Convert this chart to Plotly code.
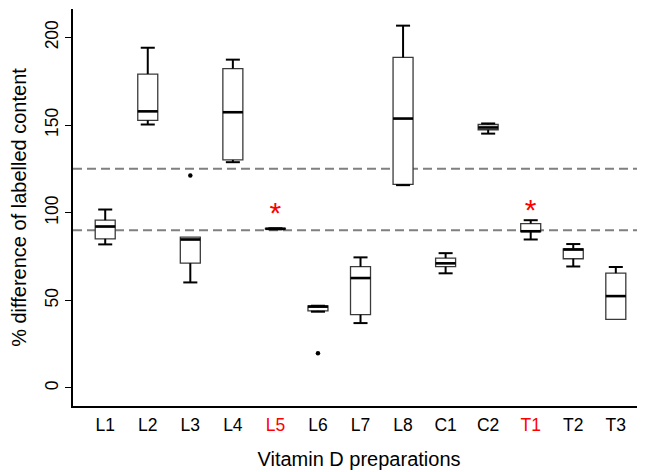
import plotly.graph_objects as go

categories = ["L1", "L2", "L3", "L4", "L5", "L6", "L7", "L8", "C1", "C2", "T1", "T2", "T3"]
lower_whisker = [81.9, 150.3, 60.2, 128.8, 90.5, 43.5, 37.0, 115.7, 65.4, 145.1, 84.7, 69.3, 39.1]
q1_values = [85.1, 152.7, 71.2, 130.1, 90.6, 44.0, 41.8, 116.1, 69.2, 147.3, 89.2, 73.7, 39.1]
median_values = [92.1, 157.8, 84.7, 157.3, 90.8, 46.4, 62.7, 153.7, 71.1, 148.6, 89.4, 79.0, 52.4]
q3_values = [95.7, 179.1, 86.0, 182.2, 91.0, 46.8, 69.2, 188.6, 74.1, 150.3, 93.8, 79.4, 65.5]
upper_whisker = [101.8, 194.1, 86.0, 187.3, 91.1, 46.9, 74.5, 206.7, 76.9, 150.9, 95.7, 82.1, 69.0]

outlier_categories = ["L3", "L6"]
outlier_values = [121.2, 19.8]

flagged_categories = ["L5", "T1"]
flag_values = [98.5, 100.0]

reference_lines = [90, 125]
y_ticks = [0, 50, 100, 150, 200]

FONT = "Liberation Sans, Arial, Helvetica, sans-serif"
BOX_W = 0.47
CAP_W = 0.165

xs = list(range(len(categories)))
pos = {c: i for i, c in enumerate(categories)}

fig = go.Figure()

# reference lines
for v in reference_lines:
    fig.add_shape(type="line", xref="paper", x0=0, x1=1, yref="y", y0=v, y1=v,
                  line=dict(color="#808080", width=2, dash="9px,5px"), layer="below")

# whiskers and caps
wx, wy = [], []
for i in xs:
    if upper_whisker[i] > q3_values[i]:
        wx += [i, i, None, i - CAP_W, i + CAP_W, None]
        wy += [q3_values[i], upper_whisker[i], None, upper_whisker[i], upper_whisker[i], None]
    if lower_whisker[i] < q1_values[i]:
        wx += [i, i, None, i - CAP_W, i + CAP_W, None]
        wy += [q1_values[i], lower_whisker[i], None, lower_whisker[i], lower_whisker[i], None]
fig.add_trace(go.Scatter(x=wx, y=wy, mode="lines", line=dict(color="black", width=2),
                         hoverinfo="skip", showlegend=False))

# boxes
fig.add_trace(go.Box(x=xs, q1=q1_values, median=median_values, q3=q3_values,
                     lowerfence=q1_values, upperfence=q3_values, width=BOX_W,
                     fillcolor="white", line=dict(color="#3a3a3a", width=1.3),
                     whiskerwidth=0, showlegend=False))

# thick medians
mx, my = [], []
for i in xs:
    mx += [i - BOX_W / 2, i + BOX_W / 2, None]
    my += [median_values[i], median_values[i], None]
fig.add_trace(go.Scatter(x=mx, y=my, mode="lines", line=dict(color="black", width=2.6),
                         hoverinfo="skip", showlegend=False))

# outliers
fig.add_trace(go.Scatter(x=[pos[c] for c in outlier_categories], y=outlier_values, mode="markers",
                         marker=dict(color="black", size=4.5), showlegend=False))

# significance stars
fig.add_trace(go.Scatter(x=[pos[c] for c in flagged_categories], y=flag_values, mode="text",
                         text=["*"] * len(flagged_categories), textposition="middle center",
                         textfont=dict(color="red", size=30, family=FONT), showlegend=False))

ticktext = [f'<span style="color:red">{c}</span>' if c in flagged_categories else c for c in categories]

fig.update_layout(
    width=637, height=464,
    margin=dict(l=65, r=0, t=1, b=66),
    paper_bgcolor="white", plot_bgcolor="white",
    font=dict(family=FONT, size=17, color="black"),
    showlegend=False,
)
fig.update_xaxes(
    range=[-0.757, 12.686], tickmode="array", tickvals=xs, ticktext=ticktext,
    showline=True, linecolor="black", linewidth=1.5, showgrid=False, zeroline=False,
    ticks="", tickfont=dict(size=17.5), automargin=False, ticklabelstandoff=2,
    title=dict(text="Vitamin D preparations", font=dict(size=20), standoff=18),
)
fig.update_yaxes(
    range=[-10.3, 216.2], tickmode="array", tickvals=y_ticks,
    showline=True, linecolor="black", linewidth=1.5, showgrid=False, zeroline=False,
    ticks="outside", ticklen=6, tickcolor="black", tickwidth=1.2, tickangle=-90,
    tickfont=dict(size=17.5), automargin=False,
    title=dict(text="% difference of labelled content", font=dict(size=20), standoff=10),
)

fig.write_html("out.html")
